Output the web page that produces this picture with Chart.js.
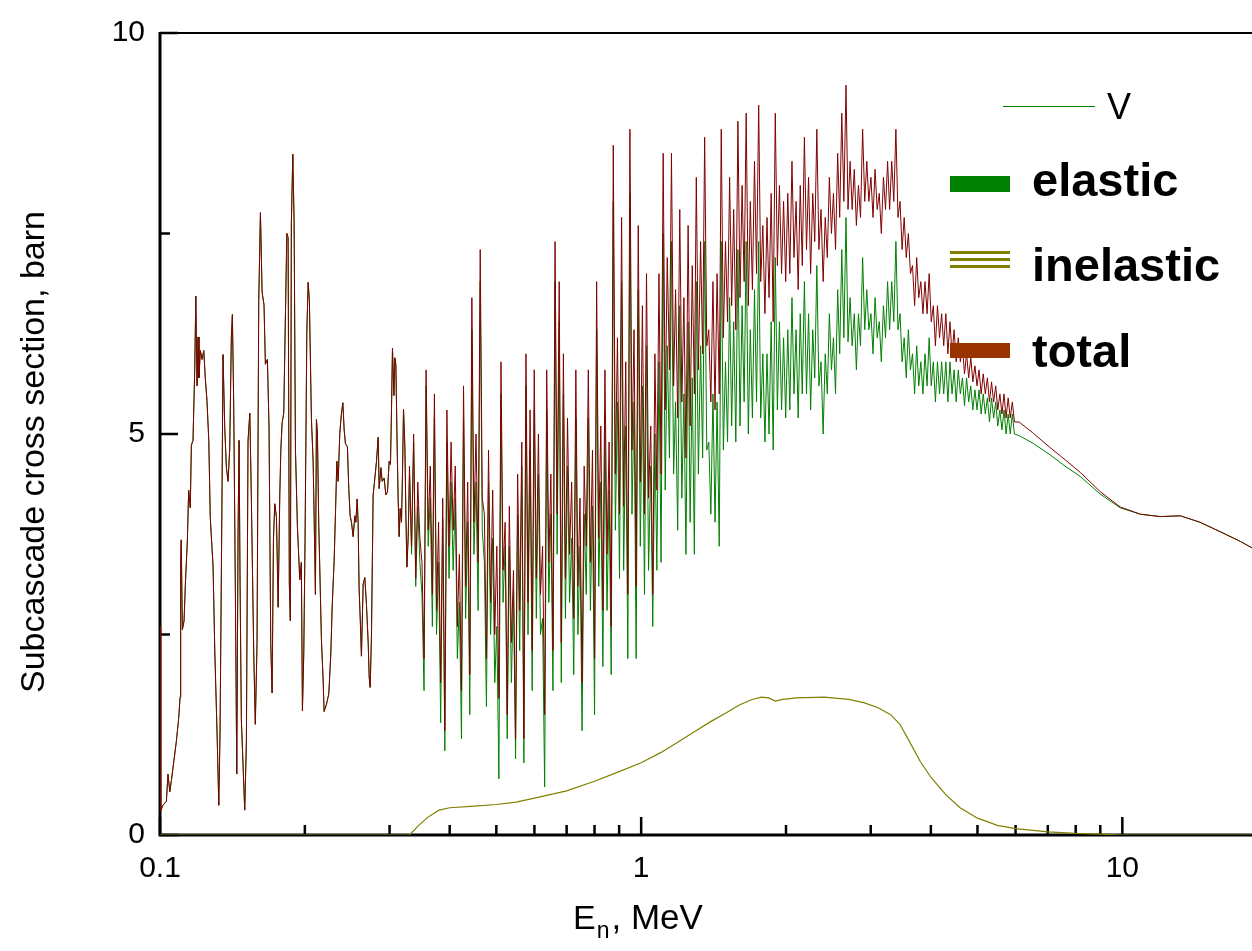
<!DOCTYPE html>
<html lang="en">
<head>
<meta charset="UTF-8">
<title>Subcascade cross section of V</title>
<script src="https://cdn.jsdelivr.net/npm/chart.js"></script>
<style>
  body { margin: 0; background: #fff; }
  #wrap { width: 1252px; height: 951px; position: relative; }
</style>
</head>
<body>
<div id="wrap"><canvas id="xsChart"></canvas></div>
<script>
// neutron energy, MeV, below the inelastic threshold (total = elastic here)
const eLow = [0.1000, 0.1003, 0.1014, 0.1031, 0.1039, 0.1048, 0.1056, 0.1069, 0.1081, 0.1093,
  0.1101, 0.1104, 0.1107, 0.1113, 0.1122, 0.1129, 0.1140, 0.1147, 0.1156, 0.1162,
  0.1171, 0.1181, 0.1187, 0.1194, 0.1200, 0.1205, 0.1213, 0.1223, 0.1233, 0.1242,
  0.1252, 0.1263, 0.1272, 0.1289, 0.1300, 0.1314, 0.1325, 0.1333, 0.1346, 0.1352,
  0.1363, 0.1374, 0.1385, 0.1396, 0.1407, 0.1414, 0.1423, 0.1434, 0.1444, 0.1453,
  0.1460, 0.1467, 0.1476, 0.1488, 0.1500, 0.1512, 0.1524, 0.1537, 0.1548, 0.1566,
  0.1578, 0.1591, 0.1604, 0.1617, 0.1630, 0.1645, 0.1656, 0.1672, 0.1685, 0.1699,
  0.1710, 0.1721, 0.1732, 0.1746, 0.1760, 0.1774, 0.1783, 0.1794, 0.1808, 0.1820,
  0.1835, 0.1846, 0.1857, 0.1866, 0.1875, 0.1888, 0.1900, 0.1912, 0.1930, 0.1952,
  0.1967, 0.1977, 0.1990, 0.2002, 0.2019, 0.2032, 0.2044,
  0.2064, 0.2081, 0.2098, 0.2104, 0.2114, 0.2124, 0.2138, 0.2148, 0.2165, 0.2183,
  0.2193, 0.2218, 0.2243, 0.2265, 0.2279, 0.2301, 0.2315, 0.2331, 0.2346, 0.2364,
  0.2383, 0.2399, 0.2414, 0.2429, 0.2452, 0.2468, 0.2484, 0.2500, 0.2520, 0.2541,
  0.2553, 0.2569, 0.2581, 0.2593, 0.2610, 0.2622, 0.2644, 0.2665, 0.2686, 0.2708,
  0.2721, 0.2734, 0.2751, 0.2773, 0.2796, 0.2818, 0.2841, 0.2854, 0.2878, 0.2896,
  0.2923, 0.2947, 0.2970, 0.2994, 0.3013, 0.3028, 0.3042, 0.3063, 0.3077, 0.3092,
  0.3111, 0.3126, 0.3141, 0.3156, 0.3176, 0.3191, 0.3207, 0.3228, 0.3244, 0.3259,
  0.3280];
const sLow = [2.6, 0.30, 0.37, 0.42, 0.76, 0.54, 0.68, 0.93, 1.16, 1.44,
  1.72, 3.4, 3.68, 2.56, 2.67, 3.12, 3.68, 4.3, 4.08, 4.86,
  4.92, 5.82, 6.72, 5.6, 6.21, 5.7, 6.04, 5.93, 6.04, 5.7,
  5.42, 4.92, 3.96, 3.35, 2.28, 1.27, 0.37, 1.32, 4.36, 5.99,
  5.09, 4.58, 4.41, 4.81, 6.21, 6.49, 5.37, 3.12, 0.76, 3.8,
  4.92, 3.12, 1.44, 0.87, 0.31, 1.16, 4.92, 5.26, 4.24, 2.28,
  1.38, 2.39, 6.66, 7.76, 6.77, 6.61, 5.87, 5.93, 5.09, 2.39,
  1.77, 3.68, 4.13, 3.96, 2.84, 4.24, 4.81, 5.14, 5.26, 6.27,
  7.5, 7.45, 3.12, 2.67, 7.62, 8.49, 7.62, 4.81, 3.85, 3.18,
  3.4, 1.55, 2.28, 3.68, 6.27, 6.89, 6.66,
  5.18, 4.66, 3.47, 3.0, 5.18, 5.01, 3.85, 3.34, 2.44, 1.93,
  1.54, 1.63, 1.76, 2.27, 2.83, 3.42, 3.98, 4.66, 4.41, 5.01,
  5.26, 5.39, 5.05, 4.88, 4.84, 4.32, 3.98, 3.9, 3.72, 3.98,
  3.9, 4.19, 3.9, 3.08, 2.61, 2.23, 3.13, 3.21, 2.87, 2.4,
  1.97, 1.84, 2.48, 4.24, 4.45, 4.66, 4.96, 4.32, 4.58, 4.41,
  4.45, 4.24, 4.28, 4.66, 4.62, 5.31, 6.07, 5.48, 5.95, 5.86,
  4.84, 4.19, 3.72, 4.07, 3.9, 4.49, 5.31, 4.84, 3.98, 3.34,
  3.72];

// resolved resonance region, 0.33 - 6 MeV
const eRes = [0.3300, 0.3333, 0.3366, 0.3400, 0.3434, 0.3468, 0.3503, 0.3538, 0.3573, 0.3609,
  0.3645, 0.3682, 0.3718, 0.3756, 0.3793, 0.3831, 0.3869, 0.3908, 0.3947, 0.3987,
  0.4027, 0.4067, 0.4108, 0.4149, 0.4190, 0.4232, 0.4274, 0.4317, 0.4360, 0.4404,
  0.4448, 0.4492, 0.4537, 0.4583, 0.4629, 0.4675, 0.4722, 0.4769, 0.4817, 0.4865,
  0.4914, 0.4963, 0.5012, 0.5062, 0.5113, 0.5164, 0.5216, 0.5268, 0.5321, 0.5374,
  0.5428, 0.5482, 0.5537, 0.5592, 0.5648, 0.5705, 0.5762, 0.5819, 0.5877, 0.5936,
  0.5995, 0.6055, 0.6116, 0.6177, 0.6239, 0.6301, 0.6364, 0.6428, 0.6492, 0.6557,
  0.6623, 0.6689, 0.6756, 0.6823, 0.6892, 0.6960, 0.7030, 0.7100, 0.7171, 0.7243,
  0.7316, 0.7389, 0.7463, 0.7537, 0.7613, 0.7689, 0.7766, 0.7843, 0.7922, 0.8001,
  0.8081, 0.8162, 0.8243, 0.8326, 0.8409, 0.8493, 0.8578, 0.8664, 0.8751, 0.8838,
  0.8927, 0.9016, 0.9106, 0.9197, 0.9289, 0.9382, 0.9476, 0.9571, 0.9666, 0.9763,
  0.9861, 0.9959, 1.006, 1.016, 1.026, 1.036, 1.047, 1.057, 1.068, 1.078,
  1.089, 1.100, 1.111, 1.122, 1.133, 1.145, 1.156, 1.168, 1.179, 1.191,
  1.203, 1.215, 1.227, 1.239, 1.252, 1.264, 1.277, 1.290, 1.302, 1.315,
  1.329, 1.342, 1.355, 1.369, 1.382, 1.396, 1.410, 1.424, 1.438, 1.453,
  1.467, 1.482, 1.497, 1.512, 1.527, 1.542, 1.557, 1.573, 1.589, 1.605,
  1.621, 1.637, 1.653, 1.670, 1.686, 1.703, 1.720, 1.737, 1.755, 1.772,
  1.790, 1.808, 1.826, 1.844, 1.863, 1.881, 1.900, 1.919, 1.938, 1.958,
  1.977, 1.997, 2.017, 2.037, 2.058, 2.078, 2.099, 2.120, 2.141, 2.162,
  2.184, 2.206, 2.228, 2.250, 2.273, 2.295, 2.318, 2.341, 2.365, 2.389,
  2.413, 2.437, 2.461, 2.486, 2.510, 2.535, 2.561, 2.586, 2.612, 2.638,
  2.665, 2.691, 2.718, 2.745, 2.773, 2.801, 2.829, 2.857, 2.886, 2.915,
  2.944, 2.973, 3.003, 3.033, 3.063, 3.094, 3.125, 3.156, 3.188, 3.220,
  3.252, 3.284, 3.317, 3.350, 3.384, 3.418, 3.452, 3.486, 3.521, 3.556,
  3.592, 3.628, 3.664, 3.701, 3.738, 3.775, 3.813, 3.851, 3.890, 3.929,
  3.968, 4.008, 4.048, 4.088, 4.129, 4.170, 4.212, 4.254, 4.297, 4.340,
  4.383, 4.427, 4.471, 4.516, 4.561, 4.607, 4.653, 4.699, 4.746, 4.794,
  4.842, 4.890, 4.939, 4.989, 5.038, 5.089, 5.140, 5.191, 5.243, 5.295,
  5.348, 5.402, 5.456, 5.510, 5.566, 5.621, 5.677, 5.734, 5.791, 5.849,
  5.908, 5.967];
const totRes = [4.6, 3.6, 5.0, 3.2, 4.4, 3.7, 3.4, 2.2, 5.8, 3.8,
  4.6, 3.0, 5.5, 2.8, 3.9, 1.9, 4.2, 1.3, 5.3, 3.6,
  4.9, 3.8, 4.6, 2.6, 3.5, 1.8, 5.6, 3.1, 4.4, 2.0,
  6.7, 3.9, 5.0, 3.4, 7.3, 4.2, 4.0, 2.2, 4.8, 2.9,
  4.3, 2.5, 3.6, 1.7, 5.9, 3.3, 3.9, 1.5, 4.1, 2.4,
  3.3, 1.2, 4.5, 2.8, 4.9, 1.2, 6.0, 2.9, 5.3, 2.3,
  5.8, 3.2, 5.0, 3.0, 3.6, 1.5, 5.8, 3.4, 4.5, 2.3,
  7.4, 4.0, 6.9, 2.4, 6.0, 3.2, 5.2, 3.5, 4.4, 2.7,
  5.8, 3.1, 4.2, 1.9, 4.6, 3.6, 5.8, 3.4, 4.8, 2.2,
  6.9, 3.7, 5.1, 2.8, 5.8, 3.5, 4.9, 2.6, 8.6, 4.5,
  6.2, 4.0, 7.7, 4.1, 5.9, 3.0, 8.8, 4.8, 6.3, 3.1,
  7.6, 4.4, 6.6, 4.0, 7.0, 4.2, 5.1, 3.0, 6.0, 4.3,
  7.0, 4.5, 8.5, 5.3, 7.2, 5.8, 8.5, 5.6, 6.8, 5.2,
  7.8, 5.4, 6.7, 4.7, 7.6, 5.1, 7.1, 5.5, 8.2, 5.8,
  7.4, 6.0, 8.7, 6.1, 6.3, 5.4, 6.9, 5.3, 7.0, 5.5,
  8.8, 6.2, 7.4, 6.4, 8.2, 6.6, 7.8, 6.3, 8.9, 6.7,
  8.1, 6.9, 9.0, 6.6, 7.9, 6.8, 8.4, 7.0, 9.1, 6.9,
  7.6, 6.5, 7.7, 6.7, 8.0, 6.4, 9.0, 7.1, 8.1, 7.0,
  7.9, 6.9, 8.0, 7.0, 8.4, 7.2, 7.9, 6.8, 8.1, 7.1,
  8.7, 7.3, 8.2, 7.0, 8.0, 7.4, 8.8, 7.3, 7.8, 6.9,
  7.7, 7.2, 8.2, 7.5, 8.0, 7.3, 8.5, 7.7, 9.0, 7.9,
  9.35, 7.8, 8.4, 7.8, 8.3, 7.6, 8.1, 7.7, 8.8, 7.9,
  8.4, 7.9, 8.2, 7.7, 8.3, 7.8, 8.0, 7.5, 8.2, 7.8,
  8.4, 7.8, 8.4, 7.9, 8.8, 7.7, 7.9, 7.3, 7.7, 7.2,
  7.5, 7.0, 7.1, 6.6, 7.2, 6.7, 6.9, 6.5, 6.9, 6.5,
  7.0, 6.4, 6.6, 6.1, 6.6, 6.2, 6.5, 6.1, 6.5, 6.0,
  6.4, 6.0, 6.3, 5.9, 6.2, 5.9, 6.1, 5.75, 6.0, 5.7,
  5.95, 5.65, 5.85, 5.6, 5.8, 5.5, 5.75, 5.5, 5.7, 5.4,
  5.65, 5.4, 5.6, 5.3, 5.5, 5.25, 5.5, 5.2, 5.45, 5.2,
  5.4, 5.15];
const elaRes = [4.5, 3.5, 4.9, 3.1, 4.1, 3.4, 3.0, 1.8, 5.6, 3.6,
  4.2, 2.6, 5.2, 2.5, 3.4, 1.4, 3.95, 1.05, 4.9, 3.2,
  4.4, 3.3, 4.2, 2.2, 2.9, 1.2, 5.2, 2.7, 3.9, 1.5,
  6.3, 3.5, 4.4, 2.8, 6.9, 3.8, 3.4, 1.6, 4.4, 2.5,
  3.7, 1.9, 2.6, 0.7, 5.5, 2.9, 3.6, 1.2, 3.6, 1.9,
  3.05, 0.95, 4.0, 2.3, 4.6, 0.9, 5.6, 2.5, 4.8, 1.8,
  5.3, 2.7, 4.5, 2.5, 2.7, 0.6, 5.3, 2.9, 4.0, 1.8,
  6.9, 3.5, 6.4, 1.9, 5.5, 2.7, 4.6, 2.9, 3.7, 2.0,
  5.2, 2.5, 3.6, 1.3, 4.0, 3.0, 5.2, 2.8, 4.1, 1.5,
  6.3, 3.1, 4.4, 2.1, 5.1, 2.8, 4.3, 2.0, 7.9, 3.8,
  5.4, 3.2, 6.9, 3.3, 5.1, 2.2, 8.0, 4.0, 5.4, 2.2,
  6.8, 3.6, 5.6, 3.0, 6.1, 3.3, 4.6, 2.6, 5.0, 3.3,
  5.9, 3.4, 7.5, 4.3, 6.1, 4.7, 7.4, 4.5, 5.4, 3.8,
  6.6, 4.2, 5.5, 3.5, 6.4, 3.9, 5.7, 3.5, 6.9, 4.5,
  6.1, 4.7, 7.4, 4.8, 4.9, 4.0, 5.5, 3.9, 5.4, 3.6,
  7.4, 4.8, 5.9, 4.9, 6.7, 5.1, 6.4, 4.9, 7.3, 5.1,
  6.6, 5.4, 7.4, 5.0, 6.3, 5.2, 6.8, 5.4, 7.4, 5.2,
  6.0, 4.9, 6.0, 5.0, 6.4, 4.8, 7.2, 5.3, 6.4, 5.3,
  6.2, 5.2, 6.3, 5.3, 6.7, 5.5, 6.3, 5.2, 6.5, 5.5,
  6.9, 5.5, 6.5, 5.3, 6.3, 5.7, 7.1, 5.6, 5.9, 5.0,
  6.0, 5.5, 6.5, 5.8, 6.2, 5.5, 6.8, 6.0, 7.3, 6.2,
  7.7, 6.15, 6.7, 6.1, 6.5, 5.8, 6.5, 6.1, 7.2, 6.3,
  6.8, 6.3, 6.5, 6.0, 6.7, 6.2, 6.4, 5.9, 6.6, 6.2,
  6.9, 6.3, 6.9, 6.4, 7.4, 6.3, 6.5, 5.9, 6.2, 5.7,
  6.3, 5.8, 6.0, 5.5, 6.1, 5.6, 5.9, 5.5, 6.0, 5.6,
  6.2, 5.6, 5.9, 5.4, 5.9, 5.5, 5.9, 5.5, 5.9, 5.4,
  5.9, 5.5, 5.8, 5.4, 5.8, 5.5, 5.7, 5.35, 5.7, 5.4,
  5.6, 5.3, 5.55, 5.3, 5.55, 5.25, 5.5, 5.25, 5.45, 5.15,
  5.45, 5.2, 5.4, 5.1, 5.3, 5.05, 5.3, 5.0, 5.25, 5.0,
  5.25, 5.0];

// smooth tail above 6 MeV
const eTail = [6.1, 6.5, 7.08, 7.6, 8.18, 9.0, 9.9, 10.9, 12.0, 13.2, 14.5, 16.0, 17.6, 18.6, 20.0];
const totTail = [5.15, 5.02, 4.83, 4.68, 4.52, 4.28, 4.09, 4.0, 3.97, 3.98, 3.9, 3.78, 3.66, 3.58, 3.47];
const elaTail = [4.98, 4.89, 4.74, 4.6, 4.47, 4.25, 4.08, 4.0, 3.97, 3.98, 3.9, 3.78, 3.66, 3.58, 3.47];

// inelastic
const eInel = [0.1, 0.33, 0.345, 0.36, 0.38, 0.40, 0.45, 0.50, 0.55, 0.60,
  0.70, 0.80, 0.90, 1.00, 1.10, 1.20, 1.30, 1.40, 1.50, 1.60,
  1.70, 1.78, 1.84, 1.90, 1.97, 2.10, 2.40, 2.70, 2.90, 3.10,
  3.30, 3.45, 3.60, 3.80, 4.00, 4.30, 4.60, 5.00, 5.50, 6.00,
  7.00, 8.00, 9.00, 10.0, 20.0];
const sInel = [0, 0, 0.12, 0.22, 0.31, 0.34, 0.36, 0.38, 0.41, 0.46,
  0.55, 0.67, 0.79, 0.90, 1.03, 1.17, 1.30, 1.42, 1.52, 1.62,
  1.69, 1.72, 1.71, 1.67, 1.69, 1.71, 1.72, 1.69, 1.65, 1.59,
  1.50, 1.38, 1.18, 0.92, 0.72, 0.50, 0.34, 0.21, 0.12, 0.08,
  0.04, 0.02, 0.01, 0, 0];

// axes ticks
const xMajor = [0.1, 1, 10];
const xLabels = ['0.1', '1', '10'];
const xMinor = [0.2, 0.3, 0.4, 0.5, 0.6, 0.7, 0.8, 0.9, 2, 3, 4, 5, 6, 7, 8, 9];
const yMajor = [0, 5, 10];
const yLabels = ['0', '5', '10'];
const yMinor = [2.5, 7.5];

const FONT = '"Liberation Sans", Arial, sans-serif';

function pts(e, s) {
  return e.map((v, i) => ({ x: v, y: s[i] }));
}

const totalData = pts(eLow, sLow).concat(pts(eRes, totRes), pts(eTail, totTail));
const elasticData = pts(eLow, sLow).concat(pts(eRes, elaRes), pts(eTail, elaTail));
const inelData = pts(eInel, sInel);

// frame and inward ticks, drawn under the curves
const framePlugin = {
  id: 'frame',
  beforeDatasetsDraw(chart) {
    const { ctx, chartArea: a, scales: { x, y } } = chart;
    ctx.save();
    ctx.strokeStyle = '#000';
    ctx.lineWidth = 2;
    ctx.beginPath();
    ctx.moveTo(a.left, a.top);
    ctx.lineTo(a.right, a.top);
    ctx.stroke();
    ctx.lineWidth = 3;
    ctx.beginPath();
    ctx.moveTo(a.left, a.top - 1);
    ctx.lineTo(a.left, a.bottom);
    ctx.lineTo(a.right, a.bottom);
    ctx.stroke();

    ctx.lineWidth = 2.5;
    ctx.beginPath();
    xMajor.forEach(v => { const p = x.getPixelForValue(v); ctx.moveTo(p, a.bottom); ctx.lineTo(p, a.bottom - 18); });
    xMinor.forEach(v => { const p = x.getPixelForValue(v); ctx.moveTo(p, a.bottom); ctx.lineTo(p, a.bottom - 10); });
    yMajor.forEach(v => { const p = y.getPixelForValue(v); ctx.moveTo(a.left, p); ctx.lineTo(a.left + 18, p); });
    yMinor.forEach(v => { const p = y.getPixelForValue(v); ctx.moveTo(a.left, p); ctx.lineTo(a.left + 10, p); });
    ctx.stroke();
    ctx.restore();
  }
};

// axis titles and the legend box
const labelPlugin = {
  id: 'labels',
  afterDraw(chart) {
    const { ctx } = chart;
    ctx.save();
    ctx.fillStyle = '#000';

    // y title
    ctx.save();
    ctx.translate(35, 452);
    ctx.rotate(-Math.PI / 2);
    ctx.font = '34px ' + FONT;
    ctx.textAlign = 'center';
    ctx.textBaseline = 'middle';
    ctx.fillText('Subcascade cross section, barn', 0, 0);
    ctx.restore();

    // x title with subscript
    ctx.textBaseline = 'alphabetic';
    ctx.textAlign = 'left';
    let xp = 573;
    ctx.font = '34px ' + FONT;
    ctx.fillText('E', xp, 929);
    xp += ctx.measureText('E').width + 1;
    ctx.font = '23px ' + FONT;
    ctx.fillText('n', xp, 938);
    xp += ctx.measureText('n').width + 2;
    ctx.font = '35px ' + FONT;
    ctx.fillText(', MeV', xp, 929);

    // legend
    ctx.strokeStyle = '#008000';
    ctx.lineWidth = 1;
    ctx.beginPath();
    ctx.moveTo(1003, 106.5);
    ctx.lineTo(1095, 106.5);
    ctx.stroke();
    ctx.font = '36px ' + FONT;
    ctx.fillText('V', 1107, 119);

    ctx.fillStyle = '#008000';
    ctx.fillRect(950, 176, 60, 16);
    ctx.fillStyle = '#808000';
    ctx.fillRect(950, 251, 60, 3);
    ctx.fillRect(950, 258, 60, 3);
    ctx.fillRect(950, 265, 60, 3);
    ctx.fillStyle = '#993300';
    ctx.fillRect(950, 343, 60, 15);

    ctx.fillStyle = '#000';
    ctx.font = 'bold 47px ' + FONT;
    ctx.fillText('elastic', 1032, 196);
    ctx.fillText('inelastic', 1032, 281);
    ctx.fillText('total', 1032, 367);
    ctx.restore();
  }
};

new Chart(document.getElementById('xsChart'), {
  type: 'line',
  data: {
    datasets: [
      { label: 'total', data: totalData, borderColor: '#800000', borderWidth: 1, pointRadius: 0, tension: 0 },
      { label: 'elastic', data: elasticData, borderColor: '#008000', borderWidth: 1, pointRadius: 0, tension: 0 },
      { label: 'inelastic', data: inelData, borderColor: '#808000', borderWidth: 1.2, pointRadius: 0, tension: 0 }
    ]
  },
  options: {
    responsive: true,
    maintainAspectRatio: false,
    animation: false,
    devicePixelRatio: 1,
    layout: { padding: { top: 28, left: 0, right: 0, bottom: 0 } },
    plugins: {
      legend: { display: false },
      tooltip: { enabled: false }
    },
    scales: {
      x: {
        type: 'logarithmic',
        min: 0.1,
        max: 18.6,
        grid: { display: false, drawTicks: false },
        border: { display: false },
        afterBuildTicks: s => { s.ticks = xMajor.map(v => ({ value: v })); },
        afterFit: s => { s.height = 116; },
        ticks: {
          callback: (v, i) => xLabels[i],
          autoSkip: false,
          maxRotation: 0,
          padding: 16,
          color: '#000',
          font: { family: FONT, size: 30 }
        }
      },
      y: {
        min: 0,
        max: 10,
        grid: { display: false, drawTicks: false },
        border: { display: false },
        afterBuildTicks: s => { s.ticks = yMajor.map(v => ({ value: v })); },
        afterFit: s => { s.width = 160; },
        ticks: {
          callback: (v, i) => yLabels[i],
          padding: 15,
          color: '#000',
          font: { family: FONT, size: 30 }
        }
      }
    }
  },
  plugins: [framePlugin, labelPlugin]
});
</script>
</body>
</html>
